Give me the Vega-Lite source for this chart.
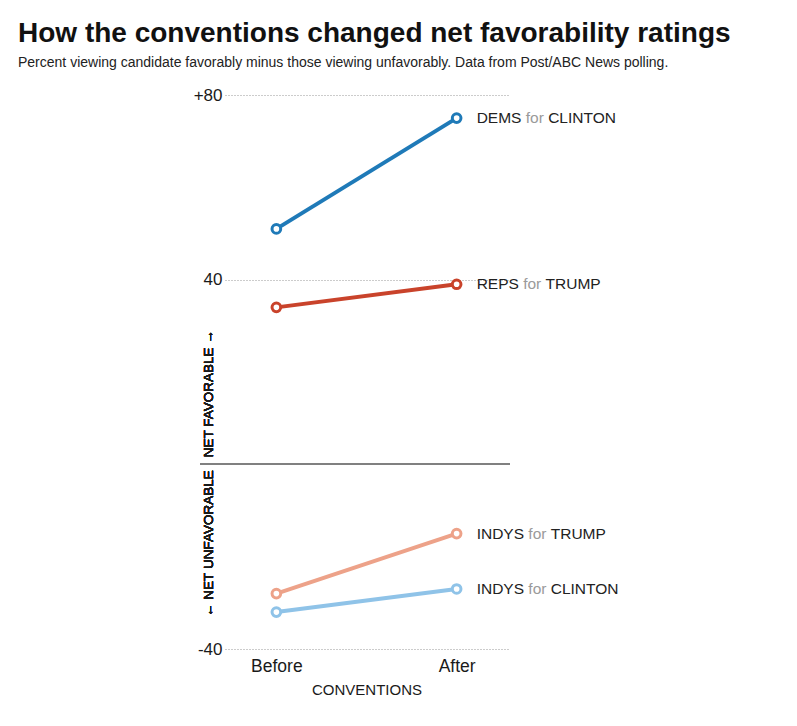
{
  "$schema": "https://vega.github.io/schema/vega-lite/v6.json",
  "autosize": {"type": "none"},
  "width": 283,
  "height": 554,
  "padding": {"left": 225, "top": 95, "right": 289, "bottom": 77},
  "background": "white",
  "title": {
    "text": "How the conventions changed net favorability ratings",
    "subtitle": "Percent viewing candidate favorably minus those viewing unfavorably. Data from Post/ABC News polling.",
    "anchor": "start",
    "frame": "group",
    "dx": -207,
    "offset": 16,
    "font": "Liberation Sans",
    "fontSize": 28,
    "fontWeight": "bold",
    "color": "#111111",
    "subtitleFont": "Liberation Sans",
    "subtitleFontSize": 14,
    "subtitleColor": "#222222",
    "subtitlePadding": 8
  },
  "config": {
    "view": {"stroke": null},
    "font": "Liberation Sans"
  },
  "data": {
    "values": [
      {"series": "DEMS for CLINTON", "group": "DEMS", "candidate": "CLINTON", "time": "Before", "value": 51},
      {"series": "DEMS for CLINTON", "group": "DEMS", "candidate": "CLINTON", "time": "After", "value": 75},
      {"series": "REPS for TRUMP", "group": "REPS", "candidate": "TRUMP", "time": "Before", "value": 34},
      {"series": "REPS for TRUMP", "group": "REPS", "candidate": "TRUMP", "time": "After", "value": 39},
      {"series": "INDYS for TRUMP", "group": "INDYS", "candidate": "TRUMP", "time": "Before", "value": -28},
      {"series": "INDYS for TRUMP", "group": "INDYS", "candidate": "TRUMP", "time": "After", "value": -15},
      {"series": "INDYS for CLINTON", "group": "INDYS", "candidate": "CLINTON", "time": "Before", "value": -32},
      {"series": "INDYS for CLINTON", "group": "INDYS", "candidate": "CLINTON", "time": "After", "value": -27}
    ]
  },
  "encoding": {
    "x": {
      "field": "time",
      "type": "ordinal",
      "sort": ["Before", "After"],
      "scale": {"type": "point", "domain": ["Before", "After"], "padding": 0.285},
      "axis": {
        "title": "CONVENTIONS",
        "domain": false,
        "ticks": false,
        "tickSize": 0,
        "grid": false,
        "labelAngle": 0,
        "labelFontSize": 17.5,
        "labelColor": "#1a1a1a",
        "labelPadding": 8,
        "titleFontSize": 15,
        "titleFontWeight": "normal",
        "titleColor": "#1a1a1a",
        "titlePadding": 8
      }
    },
    "y": {
      "field": "value",
      "type": "quantitative",
      "scale": {"domain": [-40, 80], "nice": false, "zero": false},
      "axis": {
        "title": null,
        "values": [80, 40, -40],
        "labelExpr": "datum.value > 79 ? '+80' : (datum.value < 0 ? '-' + abs(datum.value) : datum.label)",
        "domain": false,
        "ticks": false,
        "tickSize": 0,
        "labelPadding": 3,
        "labelFontSize": 17,
        "labelColor": "#1a1a1a",
        "grid": true,
        "gridColor": "#999999",
        "gridDash": [1, 2],
        "gridWidth": 1
      }
    }
  },
  "layer": [
    {
      "mark": {"type": "rule", "color": "#808080", "strokeWidth": 1.5},
      "encoding": {
        "y": {"datum": 0, "type": "quantitative"},
        "x": {"value": -25},
        "x2": {"value": 285}
      }
    },
    {
      "mark": {"type": "line", "strokeWidth": 4},
      "encoding": {
        "color": {
          "field": "series",
          "type": "nominal",
          "scale": {
            "domain": ["DEMS for CLINTON", "REPS for TRUMP", "INDYS for TRUMP", "INDYS for CLINTON"],
            "range": ["#1f7ab8", "#c9432b", "#eda289", "#8fc3e8"]
          },
          "legend": null
        },
        "detail": {"field": "series"}
      }
    },
    {
      "mark": {"type": "point", "filled": false, "fill": "white", "fillOpacity": 1, "size": 75, "strokeWidth": 3, "opacity": 1},
      "encoding": {
        "stroke": {
          "field": "series",
          "type": "nominal",
          "scale": {
            "domain": ["DEMS for CLINTON", "REPS for TRUMP", "INDYS for TRUMP", "INDYS for CLINTON"],
            "range": ["#1f7ab8", "#c9432b", "#eda289", "#8fc3e8"]
          },
          "legend": null
        }
      }
    },
    {
      "transform": [{"filter": "datum.time === 'After'"}],
      "mark": {"type": "text", "align": "left", "baseline": "middle", "dx": 20, "fontSize": 15.5, "color": "#222222"},
      "encoding": {"text": {"field": "group"}}
    },
    {
      "transform": [{"filter": "datum.time === 'After' && datum.group === 'DEMS'"}],
      "mark": {"type": "text", "align": "left", "baseline": "middle", "dx": 69.1, "fontSize": 15.5, "color": "#9a9a9a"},
      "encoding": {"text": {"value": "for"}}
    },
    {
      "transform": [{"filter": "datum.time === 'After' && datum.group === 'REPS'"}],
      "mark": {"type": "text", "align": "left", "baseline": "middle", "dx": 66.5, "fontSize": 15.5, "color": "#9a9a9a"},
      "encoding": {"text": {"value": "for"}}
    },
    {
      "transform": [{"filter": "datum.time === 'After' && datum.group === 'INDYS'"}],
      "mark": {"type": "text", "align": "left", "baseline": "middle", "dx": 71.7, "fontSize": 15.5, "color": "#9a9a9a"},
      "encoding": {"text": {"value": "for"}}
    },
    {
      "transform": [{"filter": "datum.time === 'After' && datum.group === 'DEMS'"}],
      "mark": {"type": "text", "align": "left", "baseline": "middle", "dx": 91.5, "fontSize": 15.5, "color": "#222222"},
      "encoding": {"text": {"field": "candidate"}}
    },
    {
      "transform": [{"filter": "datum.time === 'After' && datum.group === 'REPS'"}],
      "mark": {"type": "text", "align": "left", "baseline": "middle", "dx": 88.9, "fontSize": 15.5, "color": "#222222"},
      "encoding": {"text": {"field": "candidate"}}
    },
    {
      "transform": [{"filter": "datum.time === 'After' && datum.group === 'INDYS'"}],
      "mark": {"type": "text", "align": "left", "baseline": "middle", "dx": 94.1, "fontSize": 15.5, "color": "#222222"},
      "encoding": {"text": {"field": "candidate"}}
    },
    {
      "mark": {"type": "text", "angle": 270, "align": "left", "baseline": "middle", "dx": 7, "fontSize": 13.5, "color": "#1a1a1a"},
      "encoding": {
        "y": {"datum": 0, "type": "quantitative"},
        "x": {"value": -16.5},
        "text": {"value": "NET FAVORABLE →"}
      }
    },
    {
      "mark": {"type": "text", "angle": 270, "align": "right", "baseline": "middle", "dx": -6, "fontSize": 13.5, "color": "#1a1a1a"},
      "encoding": {
        "y": {"datum": 0, "type": "quantitative"},
        "x": {"value": -16.5},
        "text": {"value": "← NET UNFAVORABLE"}
      }
    }
  ]
}
